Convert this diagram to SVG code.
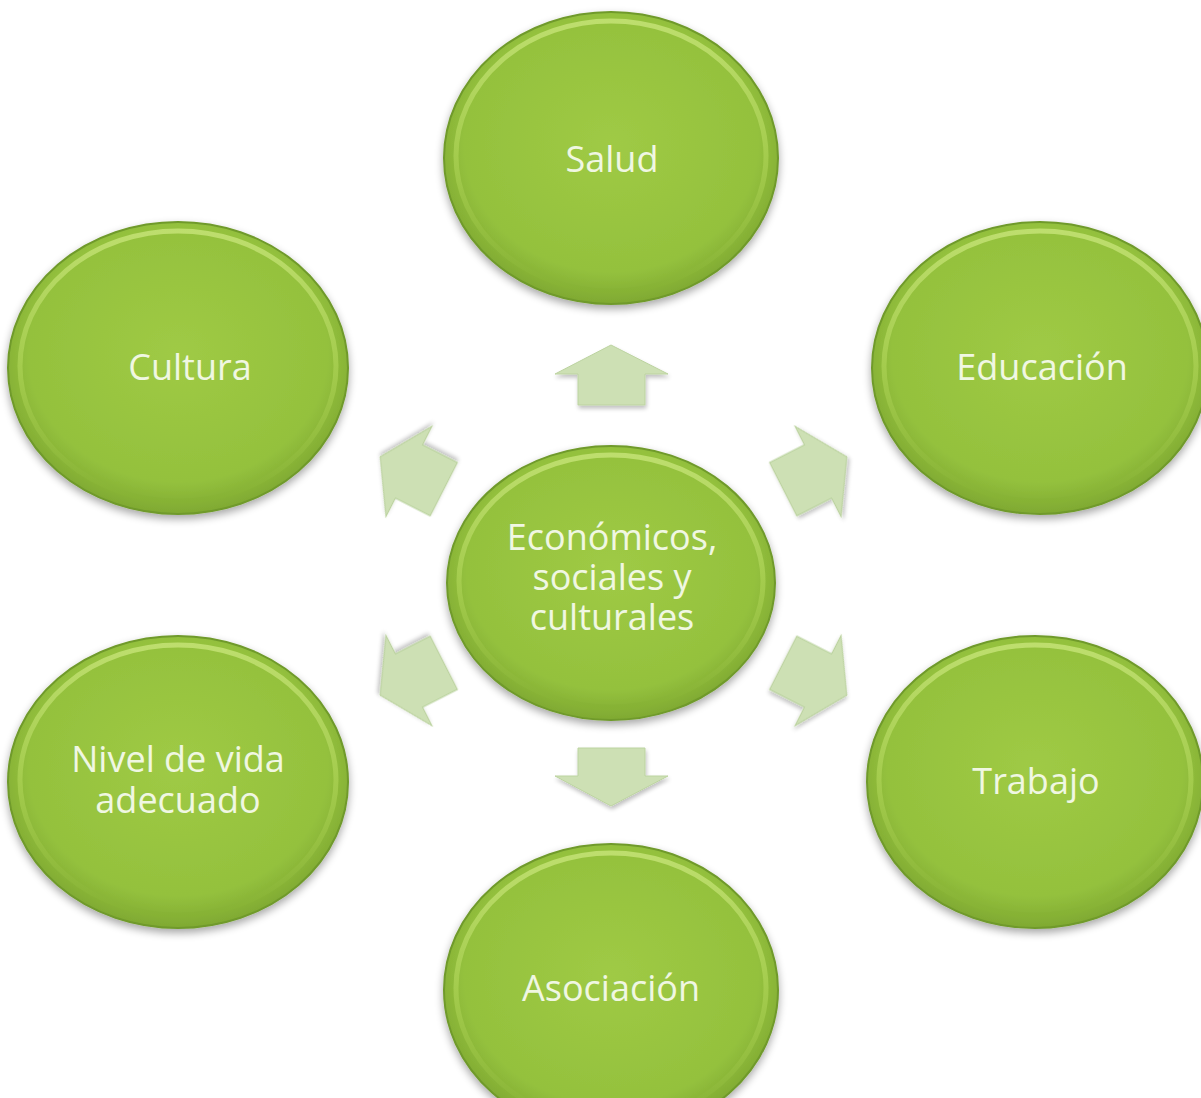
<svg xmlns="http://www.w3.org/2000/svg" width="1201" height="1098" viewBox="0 0 1201 1098">
<defs>
<radialGradient id="g" cx="50%" cy="45%" r="55%">
<stop offset="0" stop-color="#9fca45"/>
<stop offset="0.8" stop-color="#94c13d"/>
<stop offset="1" stop-color="#7fa932"/>
</radialGradient>
<linearGradient id="rim" x1="0" y1="0" x2="0" y2="1">
<stop offset="0" stop-color="#c8e57a"/>
<stop offset="0.5" stop-color="#a9d052"/>
<stop offset="1" stop-color="#86b234"/>
</linearGradient>
<filter id="sh" x="-20%" y="-20%" width="140%" height="140%">
<feGaussianBlur in="SourceAlpha" stdDeviation="4"/>
<feOffset dx="0" dy="4"/>
<feComponentTransfer><feFuncA type="linear" slope="0.35"/></feComponentTransfer>
<feMerge><feMergeNode/><feMergeNode in="SourceGraphic"/></feMerge>
</filter>
<filter id="ash" x="-20%" y="-20%" width="140%" height="140%">
<feGaussianBlur in="SourceAlpha" stdDeviation="2"/>
<feOffset dx="1" dy="3"/>
<feComponentTransfer><feFuncA type="linear" slope="0.25"/></feComponentTransfer>
<feMerge><feMergeNode/><feMergeNode in="SourceGraphic"/></feMerge>
</filter>
</defs>
<style>
.outer{fill:url(#g);stroke:#6f9a2c;stroke-width:2;filter:url(#sh)}
.inner{fill:none;stroke:url(#rim);stroke-width:5;opacity:0.8}
.t{font-family:"Open Sans","Noto Sans",sans-serif;font-size:36px;fill:#f0f7e2;text-anchor:middle}
.arr{fill:#cde0b4;stroke:#bcd3a0;stroke-width:1;filter:url(#ash)}
</style>
<rect width="1201" height="1098" fill="#ffffff"/>
<g id="connectors">
<polygon class="arr" points="611,345 668,374 645,374 645,405 578,405 578,374 555,374"/>
<polygon class="arr" points="611,806 668,776 645,776 645,748 578,748 578,776 555,776"/>
<g transform="translate(412,473) rotate(207) scale(1.15)"><polygon class="arr" points="31,0 3,-44 3,-26 -31,-26 -31,26 3,26 3,44"/></g>
<g transform="translate(815,473) rotate(-27) scale(1.15)"><polygon class="arr" points="31,0 3,-44 3,-26 -31,-26 -31,26 3,26 3,44"/></g>
<g transform="translate(412,679) rotate(153) scale(1.15)"><polygon class="arr" points="31,0 3,-44 3,-26 -31,-26 -31,26 3,26 3,44"/></g>
<g transform="translate(815,679) rotate(27) scale(1.15)"><polygon class="arr" points="31,0 3,-44 3,-26 -31,-26 -31,26 3,26 3,44"/></g>
</g>
<g id="center">
<ellipse class="outer" cx="611" cy="583" rx="164" ry="137"/>
<ellipse class="inner" cx="611" cy="581" rx="152" ry="126"/>
<text class="t" x="612" y="550">Económicos,</text>
<text class="t" x="612" y="590">sociales y</text>
<text class="t" x="612" y="630">culturales</text>
</g>
<g id="salud">
<ellipse class="outer" cx="611" cy="158" rx="167" ry="146"/>
<ellipse class="inner" cx="611" cy="156" rx="155" ry="135"/>
<text class="t" x="612" y="172">Salud</text>
</g>
<g id="cultura">
<ellipse class="outer" cx="178" cy="368" rx="170" ry="146"/>
<ellipse class="inner" cx="178" cy="366" rx="158" ry="135"/>
<text class="t" x="190" y="380">Cultura</text>
</g>
<g id="educacion">
<ellipse class="outer" cx="1040" cy="368" rx="168" ry="146"/>
<ellipse class="inner" cx="1040" cy="366" rx="156" ry="135"/>
<text class="t" x="1042" y="380">Educación</text>
</g>
<g id="nivel">
<ellipse class="outer" cx="178" cy="782" rx="170" ry="146"/>
<ellipse class="inner" cx="178" cy="780" rx="158" ry="135"/>
<text class="t" x="178" y="772">Nivel de vida</text>
<text class="t" x="178" y="813">adecuado</text>
</g>
<g id="trabajo">
<ellipse class="outer" cx="1035" cy="782" rx="168" ry="146"/>
<ellipse class="inner" cx="1035" cy="780" rx="156" ry="135"/>
<text class="t" x="1036" y="794">Trabajo</text>
</g>
<g id="asociacion">
<ellipse class="outer" cx="611" cy="990" rx="167" ry="146"/>
<ellipse class="inner" cx="611" cy="988" rx="155" ry="135"/>
<text class="t" x="611" y="1001">Asociación</text>
</g>
</svg>
